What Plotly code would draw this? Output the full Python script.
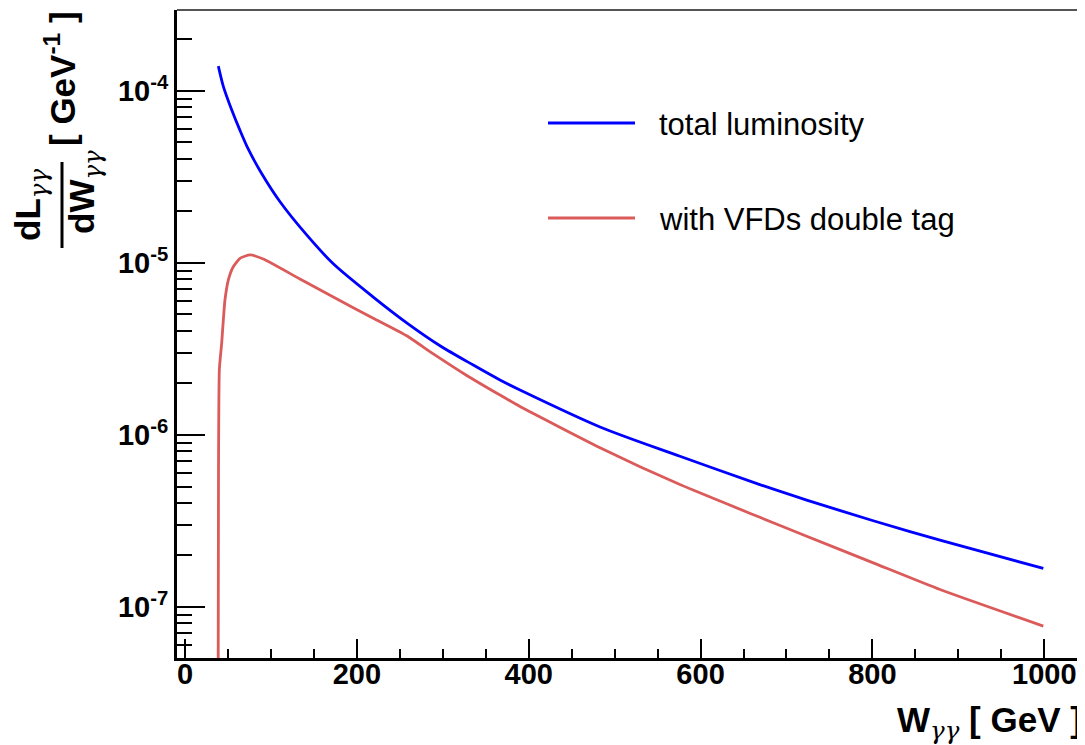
import plotly.graph_objects as go

# ---- data ----
w_total = [38.8, 44.6, 54.3, 64.0, 73.7, 89.2, 110.6, 141.6, 172.6, 219.1, 258.0,
           296.8, 335.5, 366.6, 389.9, 483.0, 576.0, 669.0, 723.5, 801.0,
           878.6, 998.9]
lum_total = [1.39e-4, 1.06e-4, 7.75e-5, 5.88e-5, 4.57e-5, 3.30e-5, 2.26e-5, 1.45e-5,
             9.85e-6, 6.31e-6, 4.47e-6, 3.29e-6, 2.54e-6, 2.08e-6, 1.82e-6, 1.11e-6,
             7.50e-7, 5.13e-7, 4.17e-7, 3.16e-7, 2.44e-7, 1.67e-7]

w_tag = [38.6, 39.0, 40.0, 42.7, 44.6, 46.5, 50.4, 56.2, 64.0, 75.6, 91.1, 133.8,
         172.6, 219.1, 258.0, 289.0, 327.9, 366.6, 389.9, 483.0, 576.0,
         669.0, 723.5, 801.0, 878.6, 998.9]
lum_tag = [3.0e-8, 6.0e-7, 2.4e-6, 3.41e-6, 4.64e-6, 6.07e-6, 7.93e-6, 9.48e-6,
           1.06e-5, 1.11e-5, 1.05e-5, 8.04e-6, 6.31e-6, 4.76e-6, 3.76e-6, 2.95e-6,
           2.21e-6, 1.70e-6, 1.46e-6, 8.41e-7, 5.13e-7, 3.31e-7, 2.57e-7,
           1.80e-7, 1.26e-7, 7.72e-8]

x_ticks = [0, 200, 400, 600, 800, 1000]
x_ticktext = ["0", "200", "400", "600", "800", "1000"]
y_ticks = [1e-7, 1e-6, 1e-5, 1e-4]
y_ticktext = ["10<sup>-7</sup>", "10<sup>-6</sup>", "10<sup>-5</sup>", "10<sup>-4</sup>"]

names = ["total luminosity", "with VFDs double tag"]
colors = ["#0000FF", "#DB5A5A"]

# ---- layout geometry (page pixels; the page body has an 8px margin) ----
OFF = 8
W, H = 1085 - OFF, 745 - OFF
ML, MR, MT, MB = 177 - OFF, 0, 10 - OFF, 745 - 658
PW, PH = W - ML - MR, H - MT - MB


def px(x):
    """page x pixel -> paper coordinate"""
    return (x - OFF - ML) / PW


def py(y):
    """page y pixel -> paper coordinate"""
    return (H - MB - (y - OFF)) / PH


FONT = "Liberation Sans, Arial, Helvetica, sans-serif"
GAM = "<span style='font-family:DejaVu Serif;font-style:italic;font-weight:normal'>γγ</span>"

fig = go.Figure()
fig.add_trace(go.Scatter(x=w_total, y=lum_total, mode="lines", name=names[0],
                         line=dict(color=colors[0], width=2.8, shape="spline", smoothing=0.8),
                         showlegend=False))
fig.add_trace(go.Scatter(x=w_tag, y=lum_tag, mode="lines", name=names[1],
                         line=dict(color=colors[1], width=2.8, shape="spline", smoothing=0.5),
                         showlegend=False))

minor_y = [k * 10.0 ** e for e in range(-8, -3) for k in range(2, 10)]

fig.update_layout(
    width=W, height=H,
    margin=dict(l=ML, r=MR, t=MT, b=MB, pad=0),
    paper_bgcolor="white", plot_bgcolor="white",
    xaxis=dict(
        range=[-9.3, 1047.4], showgrid=False, zeroline=False,
        showline=True, linewidth=3, linecolor="black",
        tickmode="array", tickvals=x_ticks, ticktext=x_ticktext,
        ticks="inside", ticklen=19, tickwidth=2, tickcolor="black",
        ticklabelstandoff=-12,
        minor=dict(dtick=50, tick0=0, ticks="inside", ticklen=9, tickwidth=2,
                   tickcolor="black", showgrid=False),
        tickfont=dict(family=FONT, size=29, color="black", weight="bold"),
    ),
    yaxis=dict(
        type="log", range=[-7.298, -3.531], showgrid=False, zeroline=False,
        showline=True, linewidth=3, linecolor="black",
        tickmode="array", tickvals=y_ticks, ticktext=y_ticktext,
        ticks="inside", ticklen=28, tickwidth=2, tickcolor="black",
        minor=dict(tickmode="array", tickvals=minor_y, ticks="inside", ticklen=15,
                   tickwidth=2, tickcolor="black", showgrid=False),
        tickfont=dict(family=FONT, size=29, color="black", weight="bold"),
    ),
)

shapes = [
    # top frame line
    dict(type="line", xref="paper", yref="paper", x0=0, x1=1, y0=1, y1=1,
         line=dict(color="#555555", width=2)),
    # fraction bar of y title
    dict(type="line", xref="paper", yref="paper", x0=px(62), x1=px(62),
         y0=py(162), y1=py(248), line=dict(color="black", width=3)),
    # legend samples
    dict(type="line", xref="paper", yref="paper", x0=px(548), x1=px(635),
         y0=py(123), y1=py(123), line=dict(color=colors[0], width=2.8)),
    dict(type="line", xref="paper", yref="paper", x0=px(548), x1=px(635),
         y0=py(218), y1=py(218), line=dict(color=colors[1], width=2.8)),
]
fig.update_layout(shapes=shapes)

bold = dict(family=FONT, size=35, color="black", weight="bold")
annotations = [
    dict(text="dL<sub>" + GAM + "</sub>", x=px(30), y=py(205), textangle=-90, font=bold),
    dict(text="dW<sub>" + GAM + "</sub>", x=px(84), y=py(192), textangle=-90, font=bold),
    dict(text="[ GeV<sup>-1</sup> ]", x=px(60), y=py(79), textangle=-90, font=bold),
    dict(text="W<sub>" + GAM + "</sub> [ GeV ]", x=px(1084), y=py(722), xanchor="right",
         font=dict(family=FONT, size=35, color="black", weight="bold")),
    dict(text=names[0], x=px(657), y=py(124), xanchor="left",
         font=dict(family=FONT, size=31, color="black")),
    dict(text=names[1], x=px(657), y=py(219), xanchor="left",
         font=dict(family=FONT, size=31, color="black")),
]
for a in annotations:
    a.setdefault("xanchor", "center")
    a.setdefault("yanchor", "middle")
    a.update(xref="paper", yref="paper", showarrow=False)
fig.update_layout(annotations=annotations)

fig.write_html("out.html")
